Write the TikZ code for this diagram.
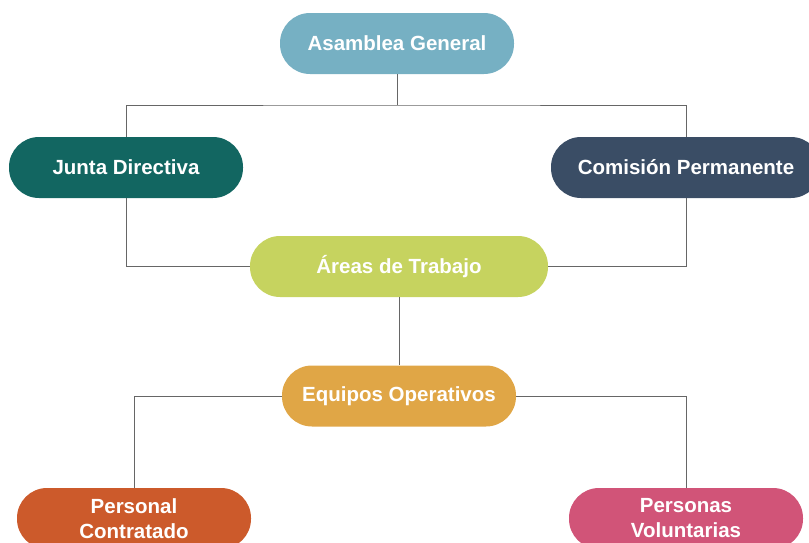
\documentclass[tikz,border=0pt]{standalone}
\usepackage{fontspec}
\setmainfont{Liberation Sans}
\definecolor{cAsam}{HTML}{76B0C3}
\definecolor{cJunta}{HTML}{126661}
\definecolor{cComi}{HTML}{3A4D65}
\definecolor{cAreas}{HTML}{C6D35F}
\definecolor{cEquip}{HTML}{E0A646}
\definecolor{cPers}{HTML}{CC5A2B}
\definecolor{cVolu}{HTML}{D15478}
\definecolor{cLine}{HTML}{666666}
\tikzset{
  pill/.style={rectangle, rounded corners=30pt, minimum height=61pt, inner sep=0pt,
    text=white, font=\fontsize{20.5}{25}\selectfont\bfseries, align=center},
  link/.style={draw=cLine, line width=1pt}
}
\begin{document}
\begin{tikzpicture}[x=1pt,y=-1pt]
\useasboundingbox (0,0) rectangle (809,542);
\begin{scope}
\clip (0,0) rectangle (809,542);
\node[pill, fill=cAsam, minimum width=234pt] (asam) at (397,43.5) {Asamblea General};
\node[pill, fill=cJunta, minimum width=234pt] (junta) at (126,167.5) {Junta Directiva};
\node[pill, fill=cComi, minimum width=270pt] (comi) at (686,167.5) {Comisión Permanente};
\node[pill, fill=cAreas, minimum width=298pt] (areas) at (399,266.5) {Áreas de Trabajo};
\node[pill, fill=cEquip, minimum width=234pt] (equip) at (399,396) {Equipos Operativos};
\node[pill, fill=cPers, minimum width=234pt] (pers) at (134,518.5) {Personal\\Contratado};
\node[pill, fill=cVolu, minimum width=234pt] (volu) at (686,518.5) {Personas\\Voluntarias};
\coordinate (hub) at (397,105);
\draw[link] (asam.south) -- (hub);
\draw[link] (junta.north) |- (hub) -| (comi.north);
\draw[link] (junta.south) |- (areas.west);
\draw[link] (comi.south) |- (areas.east);
\draw[link] (areas.south) -- (equip.north);
\draw[link] (equip.west) -| (pers.north);
\draw[link] (equip.east) -| (volu.north);
\end{scope}
\end{tikzpicture}
\end{document}
